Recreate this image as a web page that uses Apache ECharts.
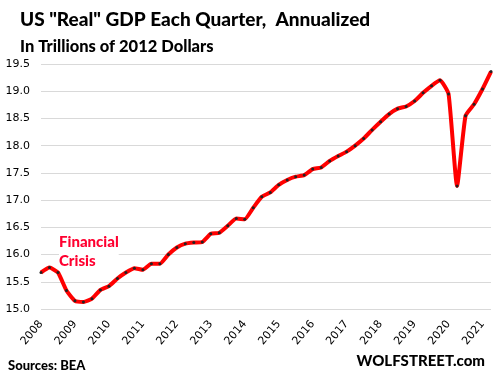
<!DOCTYPE html>
<html>
<head>
<meta charset="utf-8">
<script src="https://cdn.jsdelivr.net/npm/echarts@6/dist/echarts.min.js"></script>
<style>
html,body{margin:0;padding:0;background:#fff;}
#c{width:496px;height:379px;}
</style>
</head>
<body>
<div id="c"></div>
<script>
const quarters = [];
const years = ['2008','2009','2010','2011','2012','2013','2014','2015','2016','2017','2018','2019','2020','2021'];
years.forEach(function (y) { ['Q1','Q2','Q3','Q4'].forEach(function (q) { quarters.push(y + q); }); });
quarters.length = 54; // through 2021Q2

const gdp = [
  15.67, 15.76, 15.67, 15.34,
  15.15, 15.13, 15.19, 15.35,
  15.42, 15.56, 15.67, 15.75,
  15.72, 15.83, 15.83, 16.00,
  16.13, 16.20, 16.22, 16.23,
  16.38, 16.40, 16.53, 16.66,
  16.65, 16.86, 17.06, 17.14,
  17.28, 17.37, 17.43, 17.46,
  17.57, 17.60, 17.72, 17.81,
  17.89, 18.00, 18.13, 18.29,
  18.44, 18.58, 18.68, 18.72,
  18.82, 18.97, 19.10, 19.20,
  18.95, 17.26, 18.55, 18.76,
  19.04, 19.36
];

const yTicks = { min: 15.0, max: 19.5, step: 0.5 };

const chart = echarts.init(document.getElementById('c'), null, { renderer: 'canvas' });
chart.setOption({
  animation: false,
  backgroundColor: '#ffffff',
  title: [
    { text: 'US "Real" GDP Each Quarter,  Annualized', left: 15, top: 5,
      textStyle: { fontFamily: 'Lato', fontWeight: 900, fontSize: 19, color: '#000' } },
    { text: 'In Trillions of 2012 Dollars', left: 15, top: 33,
      textStyle: { fontFamily: 'Lato', fontWeight: 900, fontSize: 16.5, color: '#000' } }
  ],
  grid: { left: 41, right: 5, top: 64, bottom: 70, containLabel: false },
  xAxis: {
    type: 'category',
    data: quarters,
    boundaryGap: false,
    axisLine: { show: false },
    axisTick: { show: false },
    splitLine: { show: false },
    axisLabel: {
      interval: function (i) { return i % 4 === 0; },
      formatter: function (v) { return v.slice(0, 4); },
      rotate: 50,
      margin: 13,
      fontFamily: 'DejaVu Sans',
      fontSize: 11,
      color: '#000'
    }
  },
  yAxis: {
    type: 'value',
    min: yTicks.min,
    max: yTicks.max,
    interval: yTicks.step,
    axisLine: { show: false },
    axisTick: { show: false },
    splitLine: { lineStyle: { color: '#d9d9d9', width: 1 } },
    axisLabel: {
      formatter: function (v) { return v.toFixed(1); },
      margin: 11,
      fontFamily: 'DejaVu Sans',
      fontSize: 11,
      color: '#000'
    }
  },
  series: [{
    type: 'line',
    data: gdp,
    smooth: 0.15,
    showAllSymbol: true,
    symbol: 'circle',
    symbolSize: 3,
    lineStyle: { color: '#ff0000', width: 4 },
    itemStyle: { color: '#222222' },
    z: 3
  }],
  graphic: [
    { type: 'text', left: 59, top: 233, z: 10,
      style: { text: 'Financial\nCrisis', fill: '#ff0030', font: '900 15px Lato', lineHeight: 19,
               backgroundColor: '#ffffff' } },
    { type: 'text', left: 8, top: 359,
      style: { text: 'Sources: BEA', fill: '#000', font: '900 13px Lato' } },
    { type: 'text', right: 11, top: 354,
      style: { text: 'WOLFSTREET.com', fill: '#000', font: '900 15px Lato' } }
  ]
});
</script>
</body>
</html>
